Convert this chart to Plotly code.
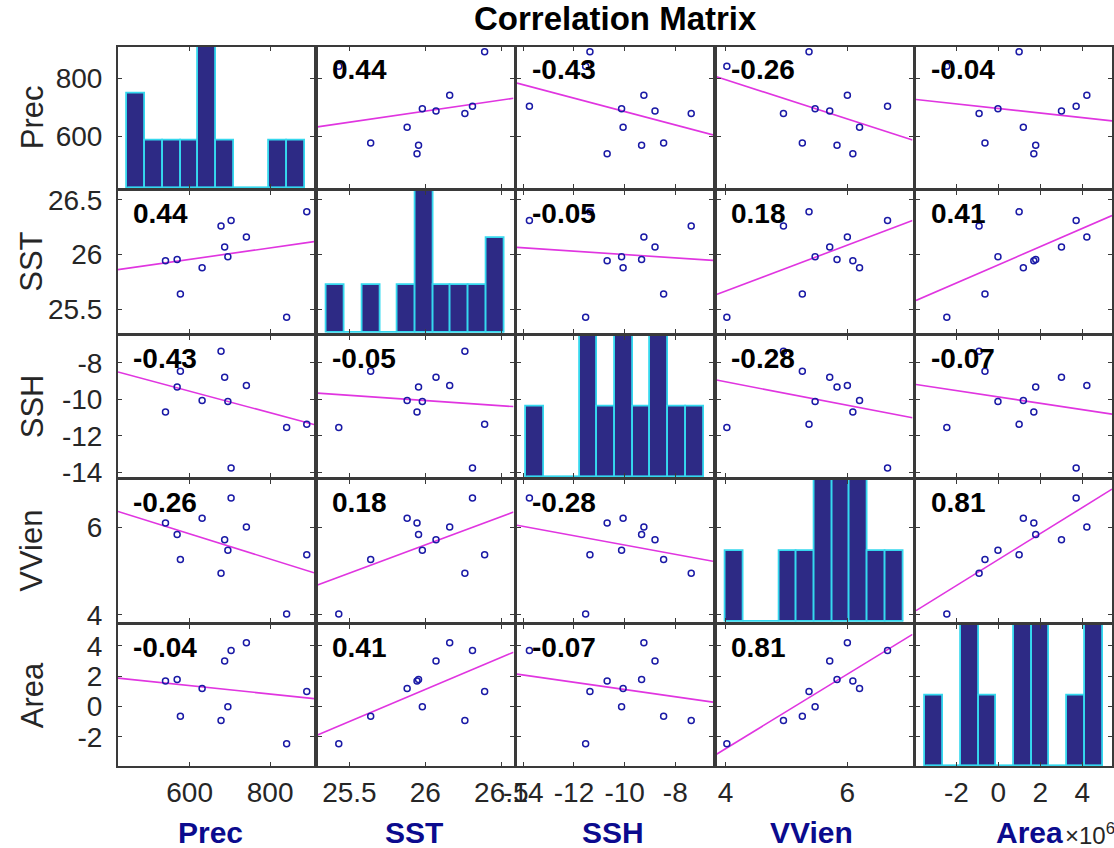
import numpy as np
import pandas as pd
import plotly.graph_objects as go

# ---- data -------------------------------------------------------------
names = ["Prec", "SST", "SSH", "VVien", "Area"]
prec = [540, 569, 577, 631, 678, 687, 695, 703, 741, 841, 891]
sst = [25.945, 25.955, 25.64, 25.88, 26.26, 26.07, 25.98, 26.31, 26.16, 25.43, 26.39]
ssh = [-10.69, -9.33, -8.46, -10.06, -7.37, -8.80, -10.12, -13.76, -9.24, -11.54, -11.37]
vvien = [6.09, 5.83, 5.26, 6.20, 4.95, 5.71, 5.47, 6.66, 6.00, 4.02, 5.37]
area_1e6 = [1.69, 1.78, -0.64, 1.19, -0.92, 3.01, -0.02, 3.71, 4.22, -2.46, 0.99]

tick_vals = [[600, 800], [25.5, 26, 26.5], [-14, -12, -10, -8], [4, 6], [-2, 0, 2, 4]]
tick_text = [["600", "800"], ["25.5", "26", "26.5"], ["-14", "-12", "-10", "-8"],
             ["4", "6"], ["-2", "0", "2", "4"]]

# ---- layout constants ---------------------------------------------------
W, H = 1114, 848
axis_ranges = [[422, 909], [25.29, 26.58], [-14.25, -6.51], [3.85, 7.07], [-3.93, 5.42]]
col_left = [118, 317.5, 517, 716.5, 916]
row_top = [46.5, 191, 335.5, 480, 624.5]
PW, PH = 196, 141.5
N_BINS = 10
# horizontal centre of each bold variable name under the bottom row
xlabel_center = [210, 414, 613, 811, 1029]

FONT = "Liberation Sans, Arial, sans-serif"
TXT = "#262626"
FRAME = "#3a3a3a"
BAR_FILL = "#2D2A85"
BAR_EDGE = "#35D8EE"
DOT = "#1A1AA6"
FIT = "#E035E0"
NAVY = "#0B0B8E"

variables = [np.array(v, dtype=float) for v in (prec, sst, ssh, vvien, area_1e6)]
n = len(variables)


def spearman(a, b):
    ra = pd.Series(a).rank().to_numpy()
    rb = pd.Series(b).rank().to_numpy()
    return np.corrcoef(ra, rb)[0, 1]


def xdom(j):
    return [col_left[j] / W, (col_left[j] + PW) / W]


def ydom(i):
    return [1 - (row_top[i] + PH) / H, 1 - row_top[i] / H]


def ax_name(kind, k):
    return f"{kind}axis" if k == 1 else f"{kind}axis{k}"


def ax_ref(kind, k):
    return kind if k == 1 else f"{kind}{k}"


fig = go.Figure()
layout = dict(
    width=W, height=H, autosize=False,
    margin=dict(l=0, r=0, t=0, b=0, pad=0, autoexpand=False),
    paper_bgcolor="white", plot_bgcolor="rgba(0,0,0,0)",
    showlegend=False, bargap=0,
    font=dict(family=FONT, color=TXT),
)
annotations = []

# ---- histograms on the diagonal (own hidden axes, ids 1..5) ---------------
for d in range(n):
    k = d + 1
    v = variables[d]
    counts, edges = np.histogram(v, bins=N_BINS)
    span = edges[-1] - edges[0]
    pad = 0.053 * span
    layout[ax_name("x", k)] = dict(domain=xdom(d), anchor=ax_ref("y", k), visible=False,
                                   automargin=False,
                                   range=[edges[0] - pad, edges[-1] + pad], fixedrange=True)
    layout[ax_name("y", k)] = dict(domain=ydom(d), anchor=ax_ref("x", k), visible=False,
                                   automargin=False,
                                   range=[0, counts.max()], fixedrange=True)
    fig.add_trace(go.Scatter(x=[edges[0], edges[-1]], y=[0, 0], mode="lines",
                             line=dict(color=BAR_EDGE, width=3), hoverinfo="skip",
                             xaxis=ax_ref("x", k), yaxis=ax_ref("y", k)))
    fig.add_trace(go.Bar(x=(edges[:-1] + edges[1:]) / 2, y=counts, width=np.diff(edges),
                         marker=dict(color=BAR_FILL, line=dict(color=BAR_EDGE, width=1.8)),
                         xaxis=ax_ref("x", k), yaxis=ax_ref("y", k)))

# ---- scatter grid (ids 6..30) --------------------------------------------
for i in range(n):
    for j in range(n):
        k = 6 + i * n + j
        common = dict(showline=True, mirror="ticks", linewidth=2, linecolor=FRAME,
                      ticks="inside", ticklen=4, tickwidth=1, tickcolor=FRAME,
                      showgrid=False, zeroline=False, fixedrange=True, automargin=False,
                      tickfont=dict(family=FONT, size=28, color=TXT))
        layout[ax_name("x", k)] = dict(common, domain=xdom(j), anchor=ax_ref("y", k),
                                       range=axis_ranges[j], tickmode="array",
                                       tickvals=tick_vals[j], ticktext=tick_text[j],
                                       showticklabels=(i == n - 1), ticklabelstandoff=0)
        layout[ax_name("y", k)] = dict(common, domain=ydom(i), anchor=ax_ref("x", k),
                                       range=axis_ranges[i], tickmode="array",
                                       tickvals=tick_vals[i], ticktext=tick_text[i],
                                       showticklabels=(j == 0), ticklabelstandoff=8)
        x, y = variables[j], variables[i]
        if i == j:
            # frame-only panel: the histogram sits underneath on its own axes
            fig.add_trace(go.Scatter(x=x, y=y, mode="none", hoverinfo="skip",
                                     xaxis=ax_ref("x", k), yaxis=ax_ref("y", k)))
            continue
        slope, intercept = np.polyfit(x, y, 1)
        xs = np.array(axis_ranges[j])
        fig.add_trace(go.Scatter(x=xs, y=intercept + slope * xs, mode="lines",
                                 line=dict(color=FIT, width=1.6),
                                 xaxis=ax_ref("x", k), yaxis=ax_ref("y", k)))
        fig.add_trace(go.Scatter(x=x, y=y, mode="markers",
                                 marker=dict(symbol="circle-open", size=6,
                                             line=dict(width=1.5), color=DOT),
                                 xaxis=ax_ref("x", k), yaxis=ax_ref("y", k)))
        r = spearman(x, y)
        annotations.append(dict(text=f"<b>{r:.2f}</b>", showarrow=False,
                                xref=f"{ax_ref('x', k)} domain", yref=f"{ax_ref('y', k)} domain",
                                x=0.064, y=0.84, xanchor="left", yanchor="middle",
                                font=dict(family=FONT, size=28, color="black")))

# ---- labels ----------------------------------------------------------------
annotations.append(dict(text="<b>Correlation Matrix</b>", showarrow=False,
                        xref="paper", yref="paper", x=615 / W, y=1 - 19 / H,
                        xanchor="center", yanchor="middle",
                        font=dict(family=FONT, size=33, color="black")))
for i, name in enumerate(names):
    annotations.append(dict(text=name, showarrow=False, textangle=-90,
                            xref="paper", yref="paper", x=32 / W,
                            y=1 - (row_top[i] + PH / 2) / H,
                            xanchor="center", yanchor="middle",
                            font=dict(family=FONT, size=31, color=TXT)))
    annotations.append(dict(text=f"<b>{name}</b>", showarrow=False,
                            xref="paper", yref="paper", x=xlabel_center[i] / W,
                            y=1 - 832 / H, xanchor="center", yanchor="middle",
                            font=dict(family=FONT, size=30, color=NAVY)))
annotations.append(dict(text="×10<sup>6</sup>", showarrow=False,
                        xref="paper", yref="paper", x=1063 / W, y=1 - 834 / H,
                        xanchor="left", yanchor="middle",
                        font=dict(family=FONT, size=24, color=TXT)))

layout["annotations"] = annotations
fig.update_layout(**layout)
fig.write_html("out.html")
